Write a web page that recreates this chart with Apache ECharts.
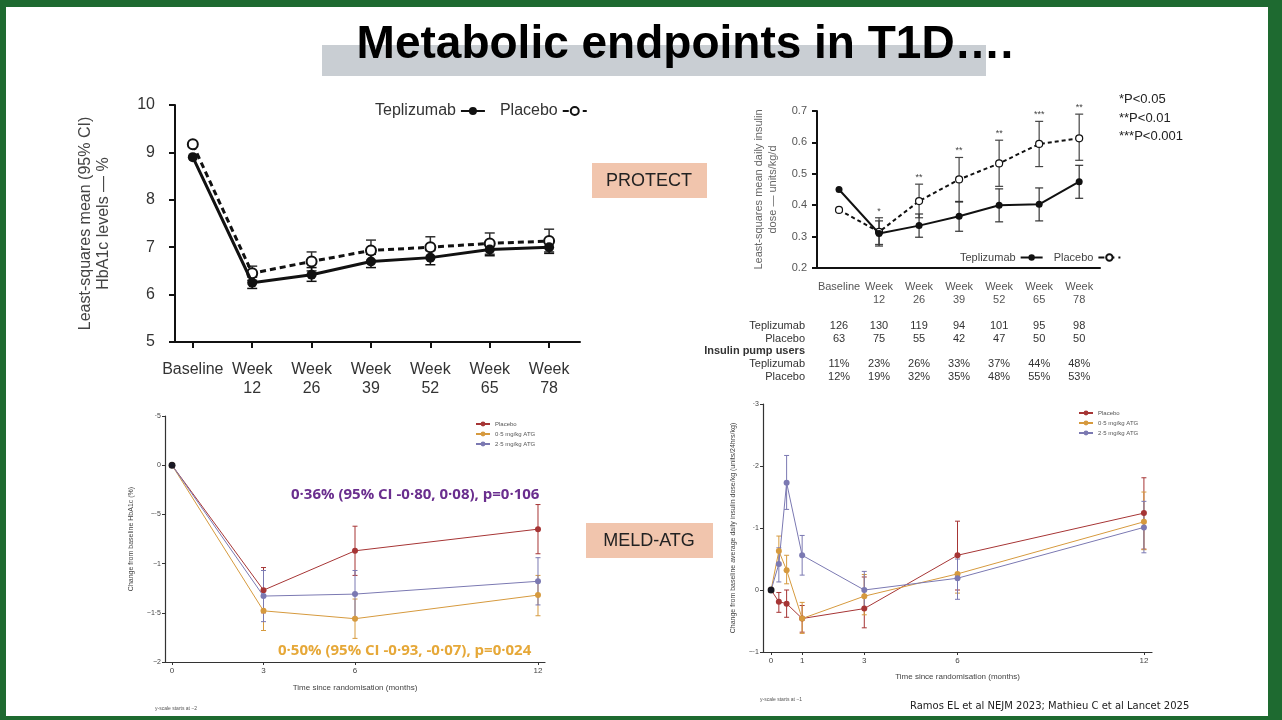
<!DOCTYPE html>
<html><head><meta charset="utf-8">
<script src="https://cdn.jsdelivr.net/npm/echarts@6/dist/echarts.min.js"></script>
<style>
html,body{margin:0;padding:0;background:#1e6a30;}
#wrap{position:absolute;left:6px;top:7px;width:1262px;height:709px;background:#fff;}
#c{position:absolute;left:0;top:0;width:1282px;height:720px;}
</style></head><body>
<div id="wrap"></div>
<div id="c"></div>
<script>
// ---------- DATA ----------
const protectCats = ["Baseline","Week\n12","Week\n26","Week\n39","Week\n52","Week\n65","Week\n78"];
const hbaTep = [8.9, 6.25, 6.42, 6.7, 6.78, 6.95, 7.0];
const hbaTepLo = [8.82, 6.13, 6.28, 6.57, 6.63, 6.82, 6.87];
const hbaTepHi = [8.98, 6.37, 6.57, 6.85, 6.93, 7.08, 7.12];
const hbaPla = [9.17, 6.45, 6.7, 6.93, 7.0, 7.08, 7.13];
const hbaPlaLo = [9.17, 6.3, 6.5, 6.72, 6.78, 6.85, 6.9];
const hbaPlaHi = [9.17, 6.6, 6.9, 7.15, 7.22, 7.3, 7.38];

const insTep = [0.45, 0.31, 0.335, 0.365, 0.40, 0.403, 0.475];
const insTepLo = [0.45, 0.27, 0.298, 0.317, 0.347, 0.35, 0.422];
const insTepHi = [0.45, 0.35, 0.372, 0.412, 0.452, 0.455, 0.527];
const insPla = [0.385, 0.315, 0.413, 0.482, 0.533, 0.595, 0.613];
const insPlaLo = [0.385, 0.275, 0.36, 0.41, 0.46, 0.523, 0.543];
const insPlaHi = [0.385, 0.36, 0.467, 0.552, 0.607, 0.667, 0.69];
const insStars = ["", "*", "**", "**", "**", "***", "**"];
const nTep = ["126","130","119","94","101","95","98"];
const nPla = ["63","75","55","42","47","50","50"];
const pumpTep = ["11%","23%","26%","33%","37%","44%","48%"];
const pumpPla = ["12%","19%","32%","35%","48%","55%","53%"];

const meldHbaMonths = [0, 3, 6, 12];
const meldHbaPla = [0, -1.27, -0.87, -0.65];
const meldHbaPlaLo = [0, -1.5, -1.12, -0.9];
const meldHbaPlaHi = [0, -1.04, -0.62, -0.4];
const meldHbaA05 = [0, -1.48, -1.56, -1.32];
const meldHbaA05Lo = [0, -1.68, -1.76, -1.53];
const meldHbaA05Hi = [0, -1.28, -1.36, -1.12];
const meldHbaA25 = [0, -1.33, -1.31, -1.18];
const meldHbaA25Lo = [0, -1.59, -1.55, -1.42];
const meldHbaA25Hi = [0, -1.07, -1.07, -0.94];

const meldInsMonths = [0, 0.25, 0.5, 1, 3, 6, 12];
const meldInsPla = [0, -0.019, -0.022, -0.046, -0.03, 0.056, 0.124];
const meldInsPlaLo = [0, -0.036, -0.044, -0.068, -0.061, 0.0, 0.066];
const meldInsPlaHi = [0, -0.004, 0.0, -0.025, 0.021, 0.111, 0.181];
const meldInsA05 = [0, 0.063, 0.032, -0.046, -0.01, 0.026, 0.11];
const meldInsA05Lo = [0, 0.04, 0.01, -0.07, -0.04, -0.005, 0.065];
const meldInsA05Hi = [0, 0.087, 0.056, -0.02, 0.025, 0.055, 0.158];
const meldInsA25 = [0, 0.042, 0.173, 0.056, 0.0, 0.019, 0.101];
const meldInsA25Lo = [0, 0.013, 0.13, 0.024, -0.03, -0.015, 0.06];
const meldInsA25Hi = [0, 0.068, 0.217, 0.088, 0.03, 0.05, 0.143];

// ---------- HELPERS ----------
const RED = '#a63535', GOLD = '#d69a3e', PURP = '#7b79b2';
function pairs(xs, ys){ return ys.map((y,i)=>[xs[i], y]); }
function idx(n){ return Array.from({length:n},(_,i)=>i); }
function errSeries(xi, yi, xs, lo, hi, color, cap, width, skip){
  const data = lo.map((l,i)=>[xs[i], l, hi[i]]).filter((d,i)=>!(skip||[]).includes(i));
  return {type:'custom', xAxisIndex:xi, yAxisIndex:yi, z:1, silent:true,
    renderItem:(p,api)=>{
      const a = api.coord([api.value(0), api.value(1)]);
      const b = api.coord([api.value(0), api.value(2)]);
      const st = {stroke:color, lineWidth:width};
      return {type:'group', children:[
        {type:'line', shape:{x1:a[0],y1:a[1],x2:b[0],y2:b[1]}, style:st},
        {type:'line', shape:{x1:a[0]-cap,y1:a[1],x2:a[0]+cap,y2:a[1]}, style:st},
        {type:'line', shape:{x1:b[0]-cap,y1:b[1],x2:b[0]+cap,y2:b[1]}, style:st}]};
    }, data};
}
const dotFmt = v => { let s = String(Math.round(v*100)/100); s = s.replace(/^(-?)0\./,'$1.').replace('.', '·').replace('-', '−'); return s; };

const chart = echarts.init(document.getElementById('c'));
const option = {
  backgroundColor:'transparent',
  animation:false,
  textStyle:{fontFamily:'Liberation Sans, Arial, sans-serif'},
  grid:[
    {left:175, top:105, width:405, height:237},
    {left:817, top:111, width:283, height:157},
    {left:165, top:416, width:380, height:246},
    {left:763, top:404, width:389, height:248}
  ],
  xAxis:[
    {gridIndex:0, type:'value', min:-0.3, max:6.52, splitLine:{show:false},
     axisLine:{lineStyle:{color:'#111', width:2}}, axisTick:{customValues:idx(7), length:6, lineStyle:{color:'#111',width:2}},
     axisLabel:{customValues:idx(7), formatter:v=>protectCats[Math.round(v)], fontSize:16, lineHeight:19, color:'#333', margin:18}},
    {gridIndex:1, type:'value', min:-0.55, max:6.52, splitLine:{show:false},
     axisLine:{lineStyle:{color:'#111', width:2}}, axisTick:{show:false},
     axisLabel:{customValues:idx(7), formatter:v=>protectCats[Math.round(v)], fontSize:11, lineHeight:13, color:'#555', margin:12}},
    {gridIndex:2, type:'value', min:-0.23, max:12.23, splitLine:{show:false},
     name:'Time since randomisation (months)', nameLocation:'middle', nameGap:22, nameTextStyle:{fontSize:8, color:'#444'},
     axisLine:{onZero:false, lineStyle:{color:'#333', width:1.2}}, axisTick:{customValues:meldHbaMonths, length:3, lineStyle:{color:'#333'}},
     axisLabel:{customValues:meldHbaMonths, fontSize:8, color:'#444', margin:5}},
    {gridIndex:3, type:'value', min:-0.26, max:12.26, splitLine:{show:false},
     name:'Time since randomisation (months)', nameLocation:'middle', nameGap:21, nameTextStyle:{fontSize:8, color:'#444'},
     axisLine:{onZero:false, lineStyle:{color:'#333', width:1.2}}, axisTick:{customValues:[0,1,3,6,12], length:3, lineStyle:{color:'#333'}},
     axisLabel:{customValues:[0,1,3,6,12], fontSize:8, color:'#444', margin:5}}
  ],
  yAxis:[
    {gridIndex:0, type:'value', min:5, max:10, interval:1, splitLine:{show:false},
     name:'Least-squares mean (95% CI)\nHbA1c levels — %', nameLocation:'middle', nameGap:62,
     nameTextStyle:{fontSize:16, color:'#444', lineHeight:18},
     axisLine:{show:true, onZero:false, lineStyle:{color:'#111', width:2}}, axisTick:{show:true, length:6, lineStyle:{color:'#111',width:2}},
     axisLabel:{fontSize:16, color:'#333', margin:20}},
    {gridIndex:1, type:'value', min:0.2, max:0.7, interval:0.1, splitLine:{show:false},
     name:'Least-squares mean daily insulin\ndose — units/kg/d', nameLocation:'middle', nameGap:37,
     nameTextStyle:{fontSize:11, color:'#666', lineHeight:14},
     axisLine:{show:true, onZero:false, lineStyle:{color:'#111', width:2}}, axisTick:{show:true, length:5, lineStyle:{color:'#111',width:2}},
     axisLabel:{fontSize:11, color:'#555', margin:10, formatter:v=>v.toFixed(1)}},
    {gridIndex:2, type:'value', min:-2, max:0.5, interval:0.5, splitLine:{show:false},
     name:'Change from baseline HbA1c (%)', nameLocation:'middle', nameGap:30, nameTextStyle:{fontSize:7, color:'#444'},
     axisLine:{show:true, onZero:false, lineStyle:{color:'#333', width:1.2}}, axisTick:{show:true, length:3},
     axisLabel:{fontSize:7, color:'#444', margin:4, formatter:dotFmt}},
    {gridIndex:3, type:'value', min:-0.1, max:0.3, interval:0.1, splitLine:{show:false},
     name:'Change from baseline average daily insulin dose/kg (units/24hrs/kg)', nameLocation:'middle', nameGap:26, nameTextStyle:{fontSize:7, color:'#444'},
     axisLine:{show:true, onZero:false, lineStyle:{color:'#333', width:1.2}}, axisTick:{show:true, length:3},
     axisLabel:{fontSize:7, color:'#444', margin:4, formatter:dotFmt}}
  ],
  legend:[
    {data:['Teplizumab','Placebo'], left:370, top:98, align:'right', itemWidth:24, itemHeight:10, itemGap:14,
     textStyle:{fontSize:16, color:'#333'}},
    {data:['Teplizumab','Placebo'], left:955, top:247, align:'right', itemWidth:22, itemHeight:8, itemGap:10,
     textStyle:{fontSize:11, color:'#444'}},
    {data:['Placebo\u200b','0·5 mg/kg ATG','2·5 mg/kg ATG'], orient:'vertical', left:470, top:416, itemWidth:14, itemHeight:6, itemGap:4,
     textStyle:{fontSize:6, color:'#555'}},
    {data:['Placebo\u200b','0·5 mg/kg ATG','2·5 mg/kg ATG'], orient:'vertical', left:1073, top:405, itemWidth:14, itemHeight:6, itemGap:4,
     textStyle:{fontSize:6, color:'#555'}}
  ],
  series:[
    errSeries(0,0,idx(7),hbaPlaLo,hbaPlaHi,'#333',5,1.5,[0]),
    errSeries(0,0,idx(7),hbaTepLo,hbaTepHi,'#111',5,1.5,[0]),
    {name:'Placebo', type:'line', xAxisIndex:0, yAxisIndex:0, data:pairs(idx(7),hbaPla), symbol:'circle', symbolSize:10,
     lineStyle:{color:'#111', width:3, type:[6,4]}, itemStyle:{color:'#fff', borderColor:'#111', borderWidth:2}, z:3},
    {name:'Teplizumab', type:'line', xAxisIndex:0, yAxisIndex:0, data:pairs(idx(7),hbaTep), symbol:'circle', symbolSize:10,
     lineStyle:{color:'#111', width:3}, itemStyle:{color:'#111'}, z:4},

    errSeries(1,1,idx(7),insPlaLo,insPlaHi,'#444',4,1.2,[0]),
    errSeries(1,1,idx(7),insTepLo,insTepHi,'#333',4,1.2,[0]),
    {name:'Placebo', type:'line', xAxisIndex:1, yAxisIndex:1, data:pairs(idx(7),insPla), symbol:'circle', symbolSize:7,
     lineStyle:{color:'#111', width:2, type:[4,3]}, itemStyle:{color:'#fff', borderColor:'#111', borderWidth:1.2}, z:3},
    {name:'Teplizumab', type:'line', xAxisIndex:1, yAxisIndex:1, data:pairs(idx(7),insTep), symbol:'circle', symbolSize:7,
     lineStyle:{color:'#111', width:2}, itemStyle:{color:'#111'}, z:4},
    {type:'custom', xAxisIndex:1, yAxisIndex:1, silent:true,
     data:insPlaHi.map((h,i)=>[i,h,insStars[i]]),
     renderItem:(p,api)=>{ const c = api.coord([api.value(0), api.value(1)]);
       return {type:'text', x:c[0], y:c[1]-2, style:{text:insStars[p.dataIndex], fontSize:9, fill:'#444', align:'center', verticalAlign:'bottom'}}; }},

    errSeries(2,2,meldHbaMonths,meldHbaPlaLo,meldHbaPlaHi,RED,2.5,1,[0]),
    errSeries(2,2,meldHbaMonths,meldHbaA05Lo,meldHbaA05Hi,GOLD,2.5,1,[0]),
    errSeries(2,2,meldHbaMonths,meldHbaA25Lo,meldHbaA25Hi,PURP,2.5,1,[0]),
    {name:'Placebo\u200b', type:'line', xAxisIndex:2, yAxisIndex:2, data:pairs(meldHbaMonths,meldHbaPla), symbol:'circle', symbolSize:6,
     lineStyle:{color:RED, width:1}, itemStyle:{color:RED}},
    {name:'0·5 mg/kg ATG', type:'line', xAxisIndex:2, yAxisIndex:2, data:pairs(meldHbaMonths,meldHbaA05), symbol:'circle', symbolSize:6,
     lineStyle:{color:GOLD, width:1}, itemStyle:{color:GOLD}},
    {name:'2·5 mg/kg ATG', type:'line', xAxisIndex:2, yAxisIndex:2, data:pairs(meldHbaMonths,meldHbaA25), symbol:'circle', symbolSize:6,
     lineStyle:{color:PURP, width:1}, itemStyle:{color:PURP}},
    {type:'scatter', xAxisIndex:2, yAxisIndex:2, data:[[meldHbaMonths[0], meldHbaPla[0]]], symbolSize:7, itemStyle:{color:'#000'}, z:5},

    errSeries(3,3,meldInsMonths,meldInsPlaLo,meldInsPlaHi,RED,2.5,1,[0]),
    errSeries(3,3,meldInsMonths,meldInsA05Lo,meldInsA05Hi,GOLD,2.5,1,[0]),
    errSeries(3,3,meldInsMonths,meldInsA25Lo,meldInsA25Hi,PURP,2.5,1,[0]),
    {name:'Placebo\u200b', type:'line', xAxisIndex:3, yAxisIndex:3, data:pairs(meldInsMonths,meldInsPla), symbol:'circle', symbolSize:6,
     lineStyle:{color:RED, width:1}, itemStyle:{color:RED}},
    {name:'0·5 mg/kg ATG', type:'line', xAxisIndex:3, yAxisIndex:3, data:pairs(meldInsMonths,meldInsA05), symbol:'circle', symbolSize:6,
     lineStyle:{color:GOLD, width:1}, itemStyle:{color:GOLD}},
    {name:'2·5 mg/kg ATG', type:'line', xAxisIndex:3, yAxisIndex:3, data:pairs(meldInsMonths,meldInsA25), symbol:'circle', symbolSize:6,
     lineStyle:{color:PURP, width:1}, itemStyle:{color:PURP}},
    {type:'scatter', xAxisIndex:3, yAxisIndex:3, data:[[meldInsMonths[0], meldInsPla[0]]], symbolSize:7, itemStyle:{color:'#000'}, z:5}
  ]
};
chart.setOption(option);

// ---------- GRAPHICS (title, boxes, table) ----------
const g = [
  {type:'rect', shape:{x:322, y:45, width:664, height:31}, style:{fill:'#c9ced3'}, z:0},
  {type:'text', x:685, y:45, style:{text:'Metabolic endpoints in T1D….', font:'bold 46px "Liberation Sans", Arial', fill:'#000', align:'center', verticalAlign:'middle'}},
  {type:'rect', shape:{x:592, y:163, width:115, height:35}, style:{fill:'#f1c5ad'}},
  {type:'text', x:649, y:181, style:{text:'PROTECT', font:'18px "Liberation Sans", Arial', fill:'#222', align:'center', verticalAlign:'middle'}},
  {type:'rect', shape:{x:586, y:523, width:127, height:35}, style:{fill:'#f1c5ad'}},
  {type:'text', x:649, y:541, style:{text:'MELD-ATG', font:'18px "Liberation Sans", Arial', fill:'#222', align:'center', verticalAlign:'middle'}},
  {type:'text', x:1119, y:118, style:{text:'*P<0.05\n**P<0.01\n***P<0.001', font:'13px "Liberation Sans", Arial', lineHeight:18.5, fill:'#222', verticalAlign:'middle'}},
  {type:'text', x:291, y:495, style:{text:'0·36% (95% CI -0·80, 0·08), p=0·106', font:'bold 15px "Open Sans", sans-serif', fill:'#6a2e8e', verticalAlign:'middle'}},
  {type:'text', x:278, y:651, style:{text:'0·50% (95% CI -0·93, -0·07), p=0·024', font:'bold 15px "Open Sans", sans-serif', fill:'#e6a838', verticalAlign:'middle'}},
  {type:'text', x:155, y:709, style:{text:'y-scale starts at −2', font:'5px Arial', fill:'#555', verticalAlign:'middle'}},
  {type:'text', x:760, y:700, style:{text:'y-scale starts at −1', font:'5px Arial', fill:'#555', verticalAlign:'middle'}},
  {type:'text', x:910, y:706, style:{text:'Ramos EL et al NEJM 2023; Mathieu C et al Lancet 2025', font:'10px "DejaVu Sans", sans-serif', fill:'#222', verticalAlign:'middle'}}
];
const rows = [[326,'Teplizumab',nTep,false],[339,'Placebo',nPla,false],[351,'Insulin pump users',null,true],[364,'Teplizumab',pumpTep,false],[377,'Placebo',pumpPla,false]];
rows.forEach(([y,lab,vals,bold])=>{
  g.push({type:'text', x:805, y, style:{text:lab, font:(bold?'bold ':'')+'11px "Liberation Sans", Arial', fill:'#333', align:'right', verticalAlign:'middle'}});
  if (vals) vals.forEach((v,i)=>{
    const px = chart.convertToPixel({xAxisIndex:1, yAxisIndex:1}, [i, 0.2])[0];
    g.push({type:'text', x:px, y, style:{text:v, font:'11px "Liberation Sans", Arial', fill:'#333', align:'center', verticalAlign:'middle'}});
  });
});
chart.setOption({graphic:g});
</script>
</body></html>
